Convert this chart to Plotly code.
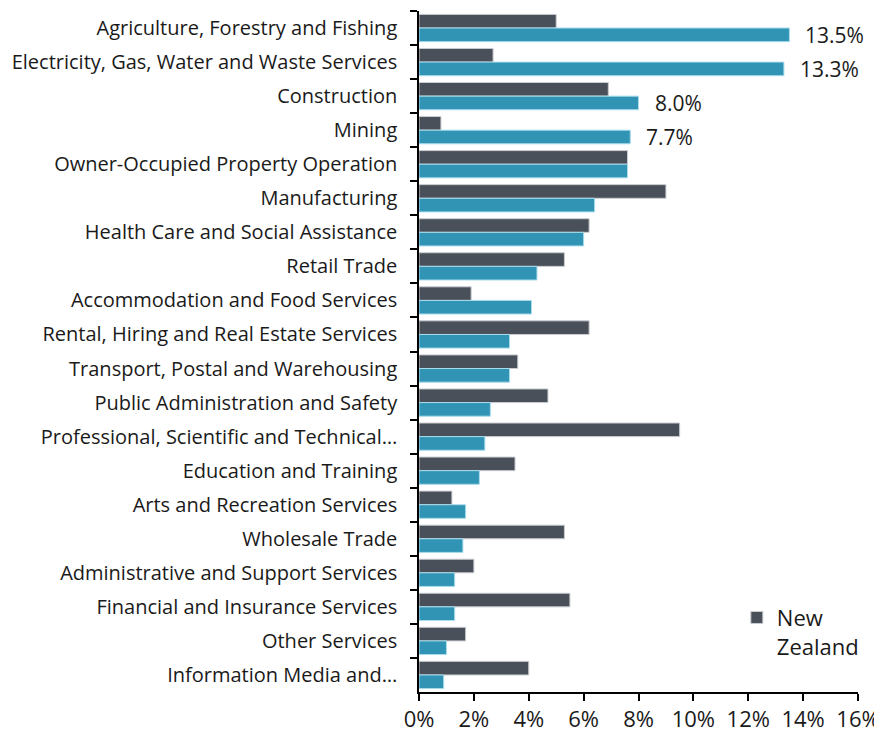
import plotly.graph_objects as go

categories = [
    "Agriculture, Forestry and Fishing",
    "Electricity, Gas, Water and Waste Services",
    "Construction",
    "Mining",
    "Owner-Occupied Property Operation",
    "Manufacturing",
    "Health Care and Social Assistance",
    "Retail Trade",
    "Accommodation and Food Services",
    "Rental, Hiring and Real Estate Services",
    "Transport, Postal and Warehousing",
    "Public Administration and Safety",
    "Professional, Scientific and Technical…",
    "Education and Training",
    "Arts and Recreation Services",
    "Wholesale Trade",
    "Administrative and Support Services",
    "Financial and Insurance Services",
    "Other Services",
    "Information Media and…",
]
new_zealand = [5.0, 2.7, 6.9, 0.8, 7.6, 9.0, 6.2, 5.3, 1.9, 6.2, 3.6, 4.7, 9.5, 3.5, 1.2, 5.3, 2.0, 5.5, 1.7, 4.0]
region = [13.5, 13.3, 8.0, 7.7, 7.6, 6.4, 6.0, 4.3, 4.1, 3.3, 3.3, 2.6, 2.4, 2.2, 1.7, 1.6, 1.3, 1.3, 1.0, 0.9]
labelled = 4
x_ticks = [0, 2, 4, 6, 8, 10, 12, 14, 16]
x_tick_text = [f"{t}%" for t in x_ticks]

DARK = "#4a5059"
TEAL = "#3194b4"
FONT = "Open Sans"

fig = go.Figure()
fig.add_trace(go.Bar(
    y=categories, x=new_zealand, orientation="h", name="New<br>Zealand",
    marker=dict(color=DARK, line=dict(color="#c9ccd0", width=1)),
))
fig.add_trace(go.Bar(
    y=categories, x=region, orientation="h", name="Region", showlegend=False,
    marker=dict(color=TEAL, line=dict(color="#a9dcec", width=1)),
))

for i in range(labelled):
    fig.add_annotation(
        x=region[i], y=categories[i], xref="x", yref="y",
        text=f"{region[i]:.1f}%", showarrow=False,
        xanchor="left", yanchor="middle", xshift=14, yshift=-7,
        font=dict(family=FONT, size=21, color="#1a1a1a"),
    )

# the page adds an 8px body margin, so the figure is sized to fit the window
fig.update_layout(
    width=874, height=728,
    margin=dict(l=411, r=24, t=3, b=44),
    paper_bgcolor="white", plot_bgcolor="white",
    barmode="group", bargap=0.2, bargroupgap=0,
    font=dict(family=FONT, size=20, color="#1a1a1a"),
    showlegend=True,
    legend=dict(x=0.724, y=0.14, xanchor="left", yanchor="top", valign="top",
                font=dict(family=FONT, size=22, color="#1a1a1a"),
                bgcolor="rgba(0,0,0,0)"),
)
fig.update_xaxes(
    range=[0, 16], tickvals=x_ticks, ticktext=x_tick_text, automargin=False,
    showgrid=False, zeroline=False, showline=True, linecolor="black", linewidth=1.5,
    ticks="outside", ticklen=7, tickcolor="black", tickwidth=1.5,
    tickfont=dict(size=22),
)
fig.update_yaxes(
    range=[len(categories) - 0.5, -0.5], autorange=False, automargin=False,
    showgrid=False, showline=True, linecolor="black", linewidth=1.5,
    ticks="outside", ticklen=7, tickcolor="black", tickwidth=1.5, tickson="boundaries",
    ticklabelstandoff=16,
)

fig.write_html("out.html")
